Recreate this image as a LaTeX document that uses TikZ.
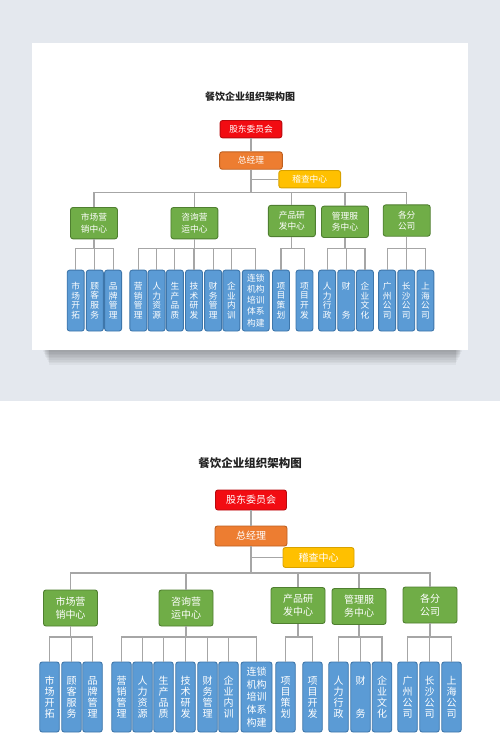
\documentclass[tikz,border=0pt]{standalone}
\usepackage{fontspec}
\newfontfamily\cjk{Noto Sans CJK SC}
\definecolor{bgc}{HTML}{E4E8EE}
\definecolor{linec}{HTML}{A6A6A6}
\definecolor{redc}{HTML}{F20C12}
\definecolor{redb}{HTML}{B80A0E}
\definecolor{orc}{HTML}{ED7D31}
\definecolor{orb}{HTML}{BE6020}
\definecolor{yelc}{HTML}{FFC000}
\definecolor{yelb}{HTML}{D8A200}
\definecolor{grc}{HTML}{70AD47}
\definecolor{grb}{HTML}{4F7F30}
\definecolor{blc}{HTML}{5B9BD5}
\definecolor{blb}{HTML}{3E76AA}
\definecolor{titc}{HTML}{222222}
\tikzset{
  line/.style={draw=linec, line width=1.3},
  box/.style={rounded corners=2.5, line width=0.9, text=white, inner sep=0pt, align=center,
    font=\cjk\fontsize{10}{13}\selectfont},
  redbox/.style={box, fill=redc, draw=redb, minimum width=71, minimum height=20},
  orbox/.style={box, fill=orc, draw=orb, minimum width=72, minimum height=20},
  yelbox/.style={box, fill=yelc, draw=yelb, minimum width=71, minimum height=20},
  grbox/.style={box, fill=grc, draw=grb, minimum width=54, minimum height=36},
  blbox/.style={box, fill=blc, draw=blb, minimum width=19.5, minimum height=70,
    font=\cjk\fontsize{10}{11}\selectfont},
  blwide/.style={blbox, minimum width=31, font=\cjk\fontsize{10}{12.7}\selectfont},
  titlest/.style={font=\cjk\bfseries\fontsize{11.5}{13}\selectfont, text=titc, inner sep=0pt},
}
\newcommand\orgchart[1]{%
  \node[titlest] (#1title) at (250,463) {餐饮企业组织架构图};
  \node[redbox] (#1r) at (251,500) {股东委员会};
  \node[orbox] (#1gm) at (251,536) {总经理};
  \node[yelbox] (#1au) at (318.5,557.5) {稽查中心};
  \coordinate (#1bus) at (251,573);
  \coordinate (#1s) at (0,637);
  \draw[line] (#1r) -- (#1gm);
  \draw[line] (#1gm.south) -- (#1bus);
  \draw[line] (#1au.west) -- (#1au.west -| #1bus);
  % green
  \node[grbox] (#1g1) at (70.5,608) {市场营\\销中心};
  \node[grbox] (#1g2) at (186,608) {咨询营\\运中心};
  \node[grbox] (#1g3) at (298,605.5) {产品研\\发中心};
  \node[grbox] (#1g4) at (359,606.5) {管理服\\务中心};
  \node[grbox] (#1g5) at (430,605) {各分\\公司};
  \draw[line] (#1g1.north) -- (#1g1.north |- #1bus) -- (#1g5.north |- #1bus) -- (#1g5.north);
  \draw[line] (#1g2.north) -- (#1g2.north |- #1bus);
  \draw[line] (#1g3.north) -- (#1g3.north |- #1bus);
  \draw[line] (#1g4.north) -- (#1g4.north |- #1bus);
  % blue
  \node[blbox] (#1b1) at (49.5,697) {市\\场\\开\\拓};
  \node[blbox] (#1b2) at (71.5,697) {顾\\客\\服\\务};
  \node[blbox] (#1b3) at (92.5,697) {品\\牌\\管\\理};
  \node[blbox] (#1b4) at (121.5,697) {营\\销\\管\\理};
  \node[blbox] (#1b5) at (142.5,697) {人\\力\\资\\源};
  \node[blbox] (#1b6) at (163.5,697) {生\\产\\品\\质};
  \node[blbox] (#1b7) at (185.5,697) {技\\术\\研\\发};
  \node[blbox] (#1b8) at (207.5,697) {财\\务\\管\\理};
  \node[blbox] (#1b9) at (228.5,697) {企\\业\\内\\训};
  \node[blwide] (#1b10) at (256.5,697) {连锁\\机构\\培训\\体系\\构建};
  \node[blbox] (#1b11) at (285.5,697) {项\\目\\策\\划};
  \node[blbox] (#1b12) at (312.5,697) {项\\目\\开\\发};
  \node[blbox] (#1b13) at (338.5,697) {人\\力\\行\\政};
  \node[blbox] (#1b14) at (360.5,697) {财\\[22pt]务};
  \node[blbox] (#1b15) at (382,697) {企\\业\\文\\化};
  \node[blbox] (#1b16) at (407.5,697) {广\\州\\公\\司};
  \node[blbox] (#1b17) at (429.5,697) {长\\沙\\公\\司};
  \node[blbox] (#1b18) at (451.5,697) {上\\海\\公\\司};
  % group buses
  \draw[line] (#1g1.south) -- (#1g1.south |- #1s);
  \draw[line] (#1g2.south) -- (#1g2.south |- #1s);
  \draw[line] (#1g3.south) -- (#1g3.south |- #1s);
  \draw[line] (#1g4.south) -- (#1g4.south |- #1s);
  \draw[line] (#1g5.south) -- (#1g5.south |- #1s);
  \draw[line] (#1b1.north) -- (#1b1.north |- #1s) -- (#1b3.north |- #1s) -- (#1b3.north);
  \draw[line] (#1b4.north) -- (#1b4.north |- #1s) -- (#1b10.north |- #1s) -- (#1b10.north);
  \draw[line] (#1b11.north) -- (#1b11.north |- #1s) -- (#1b12.north |- #1s) -- (#1b12.north);
  \draw[line] (#1b13.north) -- (#1b13.north |- #1s) -- (#1b15.north |- #1s) -- (#1b15.north);
  \draw[line] (#1b16.north) -- (#1b16.north |- #1s) -- (#1b18.north |- #1s) -- (#1b18.north);
  \foreach \i in {2,5,6,7,8,9,14,17}{\draw[line] (#1b\i.north) -- (#1b\i.north |- #1s);}
}
\begin{document}
\begin{tikzpicture}[x=1pt,y=-1pt]
  \useasboundingbox (0,0) rectangle (500,753);
  \fill[bgc] (0,0) rectangle (500,401);
  \fill[white] (0,401) rectangle (500,753);
  % shadow
  \foreach \k in {0,...,8}{
    \fill[black, opacity=0.035] (43+\k*0.8,330) rectangle (462-\k*0.8,352+\k*1.6);
  }
  \fill[white] (32,43) rectangle (468,350);
  \begin{scope}[shift={(32.63,-305.8)}, scale=0.87, transform shape, line/.append style={line width=1.1}]
    \orgchart{t}
  \end{scope}
  \orgchart{b}
\end{tikzpicture}
\end{document}
